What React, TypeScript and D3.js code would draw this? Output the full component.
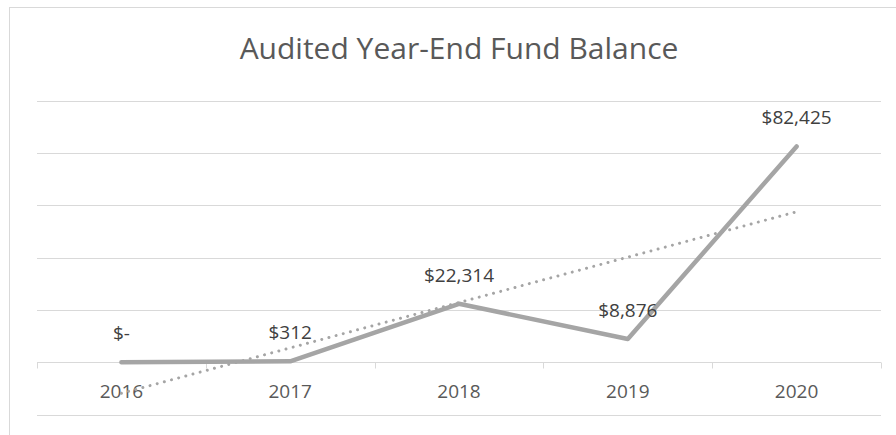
import React from "react";
import * as d3 from "d3";

const years = ["2016", "2017", "2018", "2019", "2020"];
const balances = [0, 312, 22314, 8876, 82425];
const balanceLabels = ["$-", "$312", "$22,314", "$8,876", "$82,425"];
const yTicks = [-20000, 0, 20000, 40000, 60000, 80000, 100000];
const title = "Audited Year-End Fund Balance";

const W = 896;
const H = 435;
const FONT = "'Open Sans', sans-serif";

export default function App() {
  const x = d3.scaleBand<string>().domain(years).range([37, 881]).padding(0);
  const y = d3.scaleLinear().domain([-20000, 100000]).range([414.5, 100.5]);
  const cx = (d: string) => (x(d) as number) + x.bandwidth() / 2;

  const line = d3
    .line<number>()
    .x((_, i) => cx(years[i]))
    .y((v) => y(v));

  // linear trendline (least squares) over category index 1..n
  const n = balances.length;
  const xs = balances.map((_, i) => i + 1);
  const mx = d3.mean(xs) as number;
  const my = d3.mean(balances) as number;
  const slope =
    d3.sum(xs.map((xi, i) => (xi - mx) * (balances[i] - my))) /
    d3.sum(xs.map((xi) => (xi - mx) * (xi - mx)));
  const intercept = my - slope * mx;
  const trendPts: [number, number][] = [
    [cx(years[0]), y(intercept + slope * 1)],
    [cx(years[n - 1]), y(intercept + slope * n)],
  ];

  const zeroY = Math.round(y(0)) + 0.5;
  const boundaries = years.map((d) => x(d) as number).concat([881]);

  return (
    <div style={{ position: "absolute", left: 0, top: 0 }}>
      <svg width={W} height={H} style={{ display: "block", background: "#fff" }}>
        <rect x={9.5} y={7.5} width={W} height={H} fill="#fff" stroke="#d9d9d9" strokeWidth={1} />
        <text
          x={459}
          y={59}
          textAnchor="middle"
          fontFamily={FONT}
          fontSize={30}
          fill="#595959"
        >
          {title}
        </text>
        {yTicks.map((t) => {
          const yy = Math.round(y(t)) + 0.5;
          return (
            <line key={t} x1={37} x2={881} y1={yy} y2={yy} stroke="#d9d9d9" strokeWidth={1} />
          );
        })}
        {boundaries.map((b, i) => {
          const xx = Math.round(b) + 0.5;
          return (
            <line key={i} x1={xx} x2={xx} y1={zeroY} y2={zeroY + 6} stroke="#d9d9d9" strokeWidth={1} />
          );
        })}
        {years.map((d) => (
          <text
            key={d}
            x={cx(d)}
            y={398}
            textAnchor="middle"
            fontFamily={FONT}
            fontSize={19}
            fill="#595959"
          >
            {d}
          </text>
        ))}
        <path
          d={d3.line()(trendPts) as string}
          fill="none"
          stroke="#a5a5a5"
          strokeWidth={3}
          strokeLinecap="round"
          strokeDasharray="0.01 7.4"
        />
        <path
          d={line(balances) as string}
          fill="none"
          stroke="#a5a5a5"
          strokeWidth={4.5}
          strokeLinejoin="round"
          strokeLinecap="round"
        />
        {balances.map((v, i) => (
          <text
            key={i}
            x={cx(years[i])}
            y={y(v) - 22}
            textAnchor="middle"
            fontFamily={FONT}
            fontSize={19}
            fill="#404040"
          >
            {balanceLabels[i]}
          </text>
        ))}
      </svg>
    </div>
  );
}
